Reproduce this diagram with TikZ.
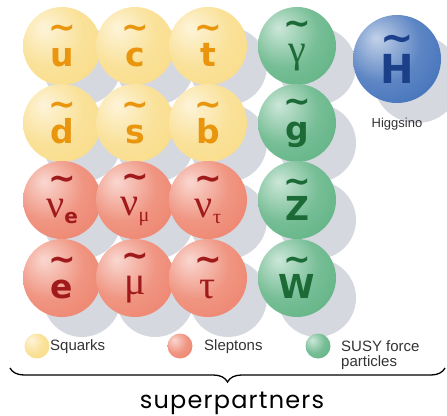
\documentclass[tikz,border=0pt]{standalone}
\usepackage{fontspec}
\setmainfont{Liberation Sans}
\newfontfamily\serifgk{Liberation Serif}
\newfontfamily\heavyfont{DejaVu Sans}
\newfontfamily\geofont[LetterSpace=5]{Poppins}
\usetikzlibrary{decorations.pathreplacing}

\definecolor{sqkball}{HTML}{F9DA80}
\definecolor{sleball}{HTML}{EC7B63}
\definecolor{gauball}{HTML}{55AE7C}
\definecolor{higball}{HTML}{3467B5}
\definecolor{sqktxt}{HTML}{E9960E}
\definecolor{sletxt}{HTML}{A01A1C}
\definecolor{gautxt}{HTML}{1C6A36}
\definecolor{higtxt}{HTML}{1C3F8A}
\definecolor{shdgrey}{HTML}{D6D8E0}
\colorlet{ballc}{white}

\pgfdeclareradialshading[ballc]{sphere}{\pgfpoint{-12bp}{12bp}}{%
  color(0bp)=(ballc!30!white); color(22bp)=(ballc!80!white);
  color(48bp)=(ballc); color(64bp)=(ballc!82!black); color(80bp)=(ballc!82!black)}

\newcommand{\tld}{\textasciitilde}
\newcommand{\gk}{\serifgk\mdseries\fontsize{40}{28}\selectfont}
\newcommand{\sub}[1]{\raisebox{-6pt}{\fontsize{20}{20}\selectfont #1}}

\begin{document}
\begin{tikzpicture}[x=1pt, y=-1pt,
  sp/.style 2 args={
    circle, minimum size=78pt, inner sep=0pt, shading=sphere,
    /utils/exec={\colorlet{ballc}{#1}}, text=#2, align=center,
    font=\heavyfont\fontsize{33}{28}\selectfont\bfseries
  },
  dot/.style={sp={#1}{black}, minimum size=25pt},
  shd/.style={fill=shdgrey},
  lgd/.style={font=\fontsize{15}{15}\selectfont, text=black!80, inner sep=0pt, align=left}
]
\def\cA{62} \def\cB{135} \def\cC{208} \def\cD{297}
\def\rA{46} \def\rB{123} \def\rC{200} \def\rD{278}

\useasboundingbox (0,0) rectangle (447,415);

% shadows
\foreach \x in {\cA,\cB,\cC,\cD}
  \foreach \y in {\rA,\rB,\rC,\rD}
    \fill[shd] ({\x+20},{\y+20}) circle (39pt);
\fill[shd] (417,79) circle (44pt);

% squarks
\node[sp={sqkball}{sqktxt}] (su) at (\cA,\rA) {\tld\\u};
\node[sp={sqkball}{sqktxt}] (sd) at (\cA,\rB) {\tld\\d};
\node[sp={sqkball}{sqktxt}] (sc) at (\cB,\rA) {\tld\\c};
\node[sp={sqkball}{sqktxt}] (ss) at (\cB,\rB) {\tld\\s};
\node[sp={sqkball}{sqktxt}] (st) at (\cC,\rA) {\tld\\t};
\node[sp={sqkball}{sqktxt}] (sb) at (\cC,\rB) {\tld\\b};

% sleptons
\node[sp={sleball}{sletxt}] (sne) at (\cA,\rC) {\tld\\{\gk ν}\sub{e}};
\node[sp={sleball}{sletxt}] (se)  at (\cA,\rD) {\tld\\e};
\node[sp={sleball}{sletxt}] (snm) at (\cB,\rC) {\tld\\{\gk ν}\sub{\serifgk\mdseries μ}};
\node[sp={sleball}{sletxt}] (smu) at (\cB,\rD) {\tld\\{\gk μ}};
\node[sp={sleball}{sletxt}] (snt) at (\cC,\rC) {\tld\\{\gk ν}\sub{\serifgk\mdseries τ}};
\node[sp={sleball}{sletxt}] (stau) at (\cC,\rD) {\tld\\{\gk τ}};

% force particles
\node[sp={gauball}{gautxt}] (gph) at (\cD,\rA) {\tld\\{\gk γ}};
\node[sp={gauball}{gautxt}] (gg)  at (\cD,\rB) {\tld\\g};
\node[sp={gauball}{gautxt}] (gz)  at (\cD,\rC) {\tld\\Z};
\node[sp={gauball}{gautxt}] (gw)  at (\cD,\rD) {\tld\\W};

% higgsino
\node[sp={higball}{higtxt}, minimum size=88pt,
  font=\heavyfont\fontsize{40}{32}\selectfont\bfseries] (hh) at (397,59) {\tld\\H};
\node[lgd, font=\fontsize{13}{13}\selectfont] (hl) at (397,124) {Higgsino};

% legend
\node[dot=sqkball] (ly) at (37,346) {};
\node[dot=sleball] (lr) at (180,346) {};
\node[dot=gauball] (lg) at (318,346) {};
\node[lgd, anchor=west] (lyt) at (50,347) {Squarks};
\node[lgd, anchor=west] (lrt) at (204,347) {Sleptons};
\node[lgd, anchor=west] (lgt) at (341,355) {SUSY force\\particles};

\coordinate (bl) at (10,368);
\coordinate (br) at (445,368);
\draw[decorate, decoration={brace, mirror, amplitude=14pt}, line width=1.3pt]
  (bl) -- (br);
\node[font=\geofont\fontsize{24}{24}\selectfont, anchor=base] (sup) at (232,408) {superpartners};
\end{tikzpicture}
\end{document}
